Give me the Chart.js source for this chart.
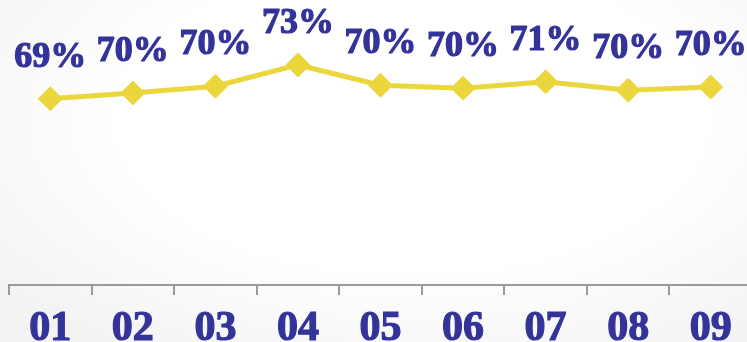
<!DOCTYPE html>
<html>
<head>
<meta charset="utf-8">
<script src="https://cdn.jsdelivr.net/npm/chart.js@4/dist/chart.umd.min.js"></script>
<style>
  html, body { margin: 0; padding: 0; overflow: hidden; }
  body { width: 747px; height: 342px;
    background: radial-gradient(ellipse 70% 80% at 55% 35%, #ffffff 55%, #f3f3f3 100%); }
  #wrap { position: relative; width: 752px; height: 342px; }
</style>
</head>
<body>
<div id="wrap"><canvas id="c"></canvas></div>
<script>
// categories and monthly rates (percent)
const months = ['01', '02', '03', '04', '05', '06', '07', '08', '09'];
const rates = [68.92, 69.55, 70.29, 72.63, 70.40, 70.07, 70.77, 69.85, 70.21];

const lineColor = '#ebd63d';
const textColor = '#34339a';

// percentage labels above each point
const pointLabels = {
    id: 'pointLabels',
    afterDatasetsDraw(chart) {
        const ctx = chart.ctx;
        const meta = chart.getDatasetMeta(0);
        ctx.save();
        ctx.font = 'bold 36px "Liberation Serif"';
        ctx.fillStyle = textColor;
        ctx.strokeStyle = textColor;
        ctx.lineWidth = 1.2;
        ctx.lineJoin = 'round';
        ctx.textAlign = 'center';
        ctx.textBaseline = 'alphabetic';
        meta.data.forEach((pt, i) => {
            const txt = Math.round(rates[i]) + '%';
            ctx.strokeText(txt, pt.x, pt.y - 32);
            ctx.fillText(txt, pt.x, pt.y - 32);
        });
        ctx.restore();
    }
};

new Chart(document.getElementById('c'), {
    type: 'line',
    data: {
        labels: months,
        datasets: [{
            data: rates,
            borderColor: lineColor,
            backgroundColor: lineColor,
            borderWidth: 5,
            pointStyle: 'rectRot',
            pointRadius: 12,
            pointBorderWidth: 1,
            pointBorderColor: lineColor,
            pointBackgroundColor: lineColor,
            tension: 0,
            clip: false
        }]
    },
    options: {
        responsive: true,
        maintainAspectRatio: false,
        animation: false,
        layout: {autoPadding: false, padding: {left: 9, right: 0, top: 0, bottom: -21}},
        plugins: {legend: {display: false}, tooltip: {enabled: false}},
        scales: {
            x: {
                offset: true,
                grid: {offset: true, drawOnChartArea: false, drawTicks: true, tickLength: 10, color: '#9a9a9a', lineWidth: 2},
                border: {display: true, color: '#9a9a9a', width: 2},
                ticks: {
                    color: textColor, padding: 13,
                    textStrokeColor: textColor, textStrokeWidth: 1.2,
                    font: {family: '"Liberation Serif"', size: 42, weight: 'bold', lineHeight: 1.0}
                }
            },
            y: {
                display: false,
                min: 48.44,
                max: 79.77
            }
        }
    },
    plugins: [pointLabels]
});
</script>
</body>
</html>
